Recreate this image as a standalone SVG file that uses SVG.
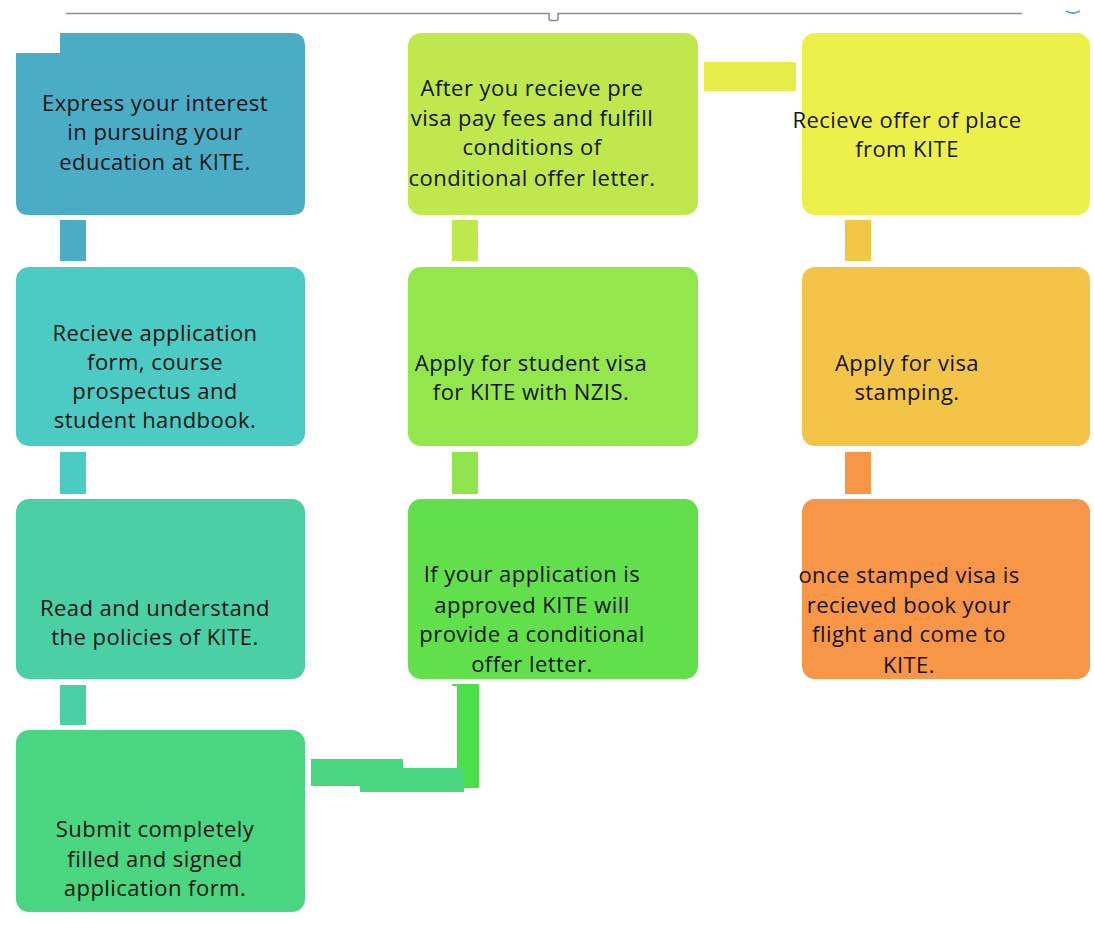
<svg xmlns="http://www.w3.org/2000/svg" width="1094" height="925" viewBox="0 0 1094 925">
<style>
text{font-family:"Open Sans","Liberation Sans",Arial,sans-serif;font-size:22px;letter-spacing:0.45px;fill:#141414;text-anchor:middle}
</style>
<rect width="1094" height="925" fill="#fff"/>
<g id="frame">
<path d="M66 13.5H549V18.5Q549 20.5 551 20.5H556Q558 20.5 558 18.5V13.5H1022" fill="none" stroke="#8c8c8c" stroke-width="1.5"/>
<path d="M1066 11Q1073 15 1080 11" fill="none" stroke="#4BACC6" stroke-width="2"/>
</g>
<g id="connectors">
<rect x="60" y="220" width="26" height="41" fill="#4BACC6"/>
<rect x="60" y="452" width="26" height="42" fill="#4BCBC3"/>
<rect x="60" y="685" width="26" height="40" fill="#4BD0A5"/>
<rect x="452" y="220" width="26" height="41" fill="#BEE84B"/>
<rect x="452" y="452" width="26" height="42" fill="#8FE54B"/>
<rect x="845" y="220" width="26" height="41" fill="#F0C846"/>
<rect x="845" y="452" width="26" height="42" fill="#F79646"/>
<rect x="704" y="62" width="92" height="29" fill="#E5EE48"/>
<rect x="457" y="684" width="22" height="104" fill="#4CDF4A"/>
<rect x="452" y="684" width="8" height="2" fill="#4CDF4A"/>
<rect x="311" y="759" width="92" height="27" fill="#4AD67E"/>
<rect x="360" y="768" width="104" height="24" fill="#4AD67E"/>
</g>
<g id="n1">
<path d="M16 53H60V33H292Q305 33 305 46V202Q305 215 292 215H29Q16 215 16 202Z" fill="#4BACC6"/>
<text x="155" y="111">Express your interest</text>
<text x="155" y="140">in pursuing your</text>
<text x="155" y="170">education at KITE.</text>
</g>
<g id="n2">
<rect x="16" y="267" width="289" height="179" rx="13" fill="#4BCBC3"/>
<text x="155" y="341">Recieve application</text>
<text x="155" y="370">form, course</text>
<text x="155" y="399">prospectus and</text>
<text x="155" y="428">student handbook.</text>
</g>
<g id="n3">
<rect x="16" y="499" width="289" height="180" rx="13" fill="#4BD0A5"/>
<text x="155" y="616">Read and understand</text>
<text x="155" y="645">the policies of KITE.</text>
</g>
<g id="n4">
<rect x="16" y="730" width="289" height="182" rx="13" fill="#4AD680"/>
<text x="155" y="837">Submit completely</text>
<text x="155" y="867">filled and signed</text>
<text x="155" y="896">application form.</text>
</g>
<g id="n5">
<rect x="408" y="499" width="290" height="180" rx="13" fill="#62E04B"/>
<text x="532" y="582">If your application is</text>
<text x="532" y="613">approved KITE will</text>
<text x="532" y="642">provide a conditional</text>
<text x="532" y="672">offer letter.</text>
</g>
<g id="n6">
<rect x="408" y="267" width="290" height="179" rx="13" fill="#93E64B"/>
<text x="531" y="371">Apply for student visa</text>
<text x="531" y="400">for KITE with NZIS.</text>
</g>
<g id="n7">
<rect x="408" y="33" width="290" height="182" rx="13" fill="#BEE84B"/>
<text x="532" y="96">After you recieve pre</text>
<text x="532" y="126">visa pay fees and fulfill</text>
<text x="532" y="155">conditions of</text>
<text x="532" y="186">conditional offer letter.</text>
</g>
<g id="n8">
<rect x="802" y="33" width="288" height="182" rx="13" fill="#EEF04A"/>
<text x="907" y="128">Recieve offer of place</text>
<text x="907" y="157">from KITE</text>
</g>
<g id="n9">
<rect x="802" y="267" width="288" height="179" rx="13" fill="#F3C447"/>
<text x="907" y="371">Apply for visa</text>
<text x="907" y="400">stamping.</text>
</g>
<g id="n10">
<rect x="802" y="499" width="288" height="180" rx="13" fill="#F79646"/>
<text x="909" y="583">once stamped visa is</text>
<text x="909" y="613">recieved book your</text>
<text x="909" y="642">flight and come to</text>
<text x="909" y="673">KITE.</text>
</g>
</svg>
